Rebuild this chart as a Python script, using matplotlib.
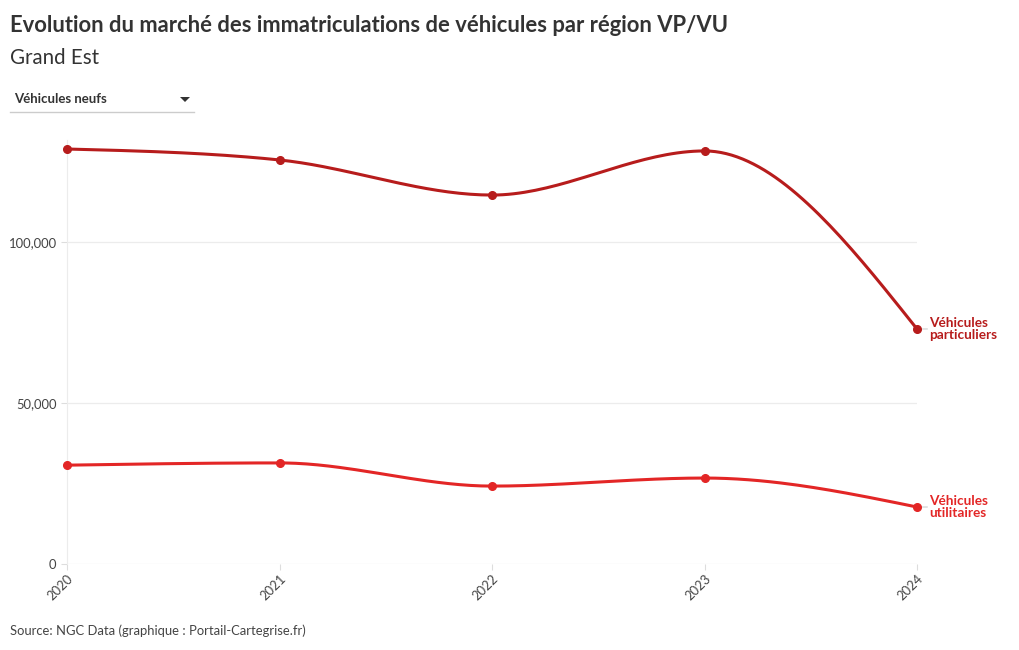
import numpy as np
import matplotlib
matplotlib.use("Agg")
import matplotlib.pyplot as plt
from matplotlib.lines import Line2D
from matplotlib.patches import Polygon

years = [2020, 2021, 2022, 2023, 2024]
vp_values = [128900, 125500, 114600, 128300, 73000]
vu_values = [30700, 31400, 24200, 26700, 17700]
series_names = ["Véhicules\nparticuliers", "Véhicules\nutilitaires"]
series_colors = ["#b71c1c", "#e32626"]
y_ticks = [0, 50000, 100000]

FONT = "Lato"
plt.rcParams["font.family"] = [FONT, "DejaVu Sans"]


def monotone_x(x, y, n=40):
    x = np.asarray(x, float)
    y = np.asarray(y, float)
    h = np.diff(x)
    s = np.diff(y) / h
    m = np.zeros_like(y)
    for i in range(1, len(x) - 1):
        p = (s[i - 1] * h[i] + s[i] * h[i - 1]) / (h[i - 1] + h[i])
        m[i] = (np.sign(s[i - 1]) + np.sign(s[i])) * min(abs(s[i - 1]), abs(s[i]), 0.5 * abs(p))
    m[0] = (3 * s[0] - m[1]) / 2
    m[-1] = (3 * s[-1] - m[-2]) / 2
    xs, ys = [], []
    for i in range(len(x) - 1):
        t = np.linspace(0, 1, n)
        h00 = 2 * t**3 - 3 * t**2 + 1
        h10 = t**3 - 2 * t**2 + t
        h01 = -2 * t**3 + 3 * t**2
        h11 = t**3 - t**2
        xs.append(x[i] + t * h[i])
        ys.append(h00 * y[i] + h10 * h[i] * m[i] + h01 * y[i + 1] + h11 * h[i] * m[i + 1])
    return np.concatenate(xs), np.concatenate(ys)


fig = plt.figure(figsize=(10.2, 6.5), dpi=100)
ax = fig.add_axes([67 / 1020, 1 - 564 / 650, (917 - 67) / 1020, (564 - 140) / 650])
ax.set_xlim(years[0], years[-1])
ax.set_ylim(0, 131700)

for vals, name, col in zip([vp_values, vu_values], series_names, series_colors):
    sx, sy = monotone_x(years, vals)
    ax.plot(sx, sy, color=col, lw=2.2, solid_capstyle="round", zorder=3, clip_on=False)
    ax.plot(years, vals, "o", color=col, ms=5.5, zorder=4, clip_on=False)
    ax.annotate(name, xy=(years[-1], vals[-1]), xytext=(8.6, 0), textcoords="offset points",
                ha="left", va="center", multialignment="left", fontsize=9.8, fontweight="bold",
                color=col, linespacing=0.95)
    ax.annotate("", xy=(years[-1], vals[-1]), xytext=(7.5, 0), textcoords="offset points",
                arrowprops=dict(arrowstyle="-", color="#cccccc", lw=0.8, shrinkA=0, shrinkB=4))

ax.set_yticks(y_ticks)
ax.set_yticklabels([f"{v:,}" for v in y_ticks])
ax.set_xticks(years)
ax.set_xticklabels([str(y) for y in years], rotation=45, ha="right", rotation_mode="anchor")
ax.grid(axis="y", color="#ececec", lw=0.9)
ax.set_axisbelow(True)
for sp in ["top", "right", "bottom"]:
    ax.spines[sp].set_visible(False)
ax.spines["left"].set_color("#ececec")
ax.tick_params(axis="both", colors="#dddddd", labelcolor="#444444", labelsize=9.4, length=4, width=0.8)
ax.tick_params(axis="x", pad=2)

fig.text(10 / 1020, 1 - 25 / 650, "Evolution du marché des immatriculations de véhicules par région VP/VU",
         fontsize=15.8, fontweight="bold", color="#333333", va="center", ha="left")
fig.text(10 / 1020, 1 - 58 / 650, "Grand Est", fontsize=14.8, color="#333333", va="center", ha="left")
fig.text(14 / 1020, 1 - 99 / 650, "Véhicules neufs", fontsize=9.5, fontweight="bold", color="#333333",
         va="center", ha="left")
tri = Polygon([[180 / 1020, 1 - 97 / 650], [190 / 1020, 1 - 97 / 650], [185 / 1020, 1 - 102 / 650]],
              closed=True, facecolor="#333333", edgecolor="none", transform=fig.transFigure)
fig.add_artist(tri)
fig.add_artist(Line2D([10 / 1020, 194 / 1020], [1 - 112 / 650, 1 - 112 / 650], color="#cccccc", lw=1))
fig.text(10 / 1020, 1 - 631 / 650, "Source: NGC Data (graphique : Portail-Cartegrise.fr)", fontsize=9.4,
         color="#444444", va="center", ha="left")

fig.savefig("out.png", dpi=100)
